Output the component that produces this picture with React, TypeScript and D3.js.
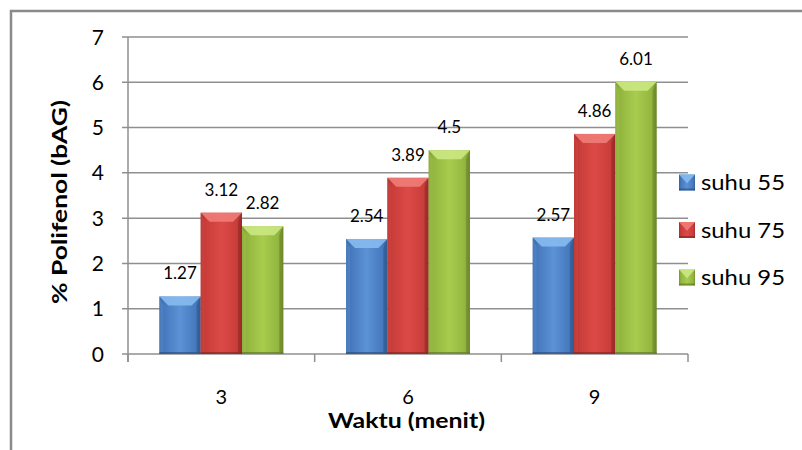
import React from "react";
import * as d3 from "d3";

const categories = ["3", "6", "9"];
const seriesNames = ["suhu 55", "suhu 75", "suhu 95"];
const suhu55 = [1.27, 2.54, 2.57];
const suhu75 = [3.12, 3.89, 4.86];
const suhu95 = [2.82, 4.5, 6.01];
const yTicks = [0, 1, 2, 3, 4, 5, 6, 7];
const seriesValues = [suhu55, suhu75, suhu95];

const palettes = [
  { dark: "#36629c", main: "#4679bd", light: "#5c92d6", top: "#86bbf0", bottom: "#2c5186" },
  { dark: "#a22f2c", main: "#c93d3a", light: "#dc4a46", top: "#f07c78", bottom: "#8c2624" },
  { dark: "#76932f", main: "#93b640", light: "#a8cc4d", top: "#cbe882", bottom: "#627c27" },
];

const FONT = "Lato, 'Open Sans', sans-serif";

function Bar({ x, y, w, h, p, id }: any) {
  const b = Math.min(9, h / 2);
  const s = Math.min(4, w / 4);
  return (
    <g>
      <rect x={x} y={y} width={w} height={h} fill={`url(#grad${id})`} />
      <polygon
        points={`${x},${y} ${x + w},${y} ${x + w - b},${y + b} ${x + b},${y + b}`}
        fill={p.top}
        opacity={0.9}
      />
      <polygon
        points={`${x},${y} ${x + s},${y + b} ${x + s},${y + h - 2} ${x},${y + h}`}
        fill={p.light}
        opacity={0.5}
      />
      <polygon
        points={`${x + w},${y} ${x + w - s},${y + b} ${x + w - s},${y + h - 2} ${x + w},${y + h}`}
        fill={p.bottom}
        opacity={0.45}
      />
      <rect x={x} y={y + h - 2} width={w} height={2} fill={p.bottom} opacity={0.7} />
    </g>
  );
}

export default function App() {
  const W = 802;
  const H = 450;
  const left = 128;
  const right = 688;
  const top = 37;
  const bottom = 354;

  const y = d3.scaleLinear().domain([0, 7]).range([bottom, top]);
  const x0 = d3.scaleBand<string>().domain(categories).range([left, right]).padding(0);
  const bw = x0.bandwidth();
  const x1 = d3
    .scaleBand<string>()
    .domain(seriesNames)
    .range([bw * 0.168, bw * 0.832])
    .padding(0);
  const barW = x1.bandwidth();
  const gridColor = "#8f8f8f";

  const legendY = [182.5, 230, 277.5];

  return (
    <svg
      width={W}
      height={H}
      style={{ position: "absolute", left: 0, top: 0, background: "#fff" }}
      fontFamily={FONT}
    >
      <defs>
        {palettes.map((p, i) => (
          <linearGradient key={i} id={`grad${i}`} x1="0" x2="1" y1="0" y2="0">
            <stop offset="0" stopColor={p.dark} />
            <stop offset="0.12" stopColor={p.main} />
            <stop offset="0.5" stopColor={p.light} />
            <stop offset="0.88" stopColor={p.main} />
            <stop offset="1" stopColor={p.dark} />
          </linearGradient>
        ))}
      </defs>
      <rect x={0} y={0} width={W} height={H} fill="#fff" />
      <rect x={11} y={11} width={900} height={700} fill="none" stroke="#8a8a8a" strokeWidth={2.5} />

      {/* gridlines */}
      {yTicks.map((t) => (
        <line
          key={t}
          x1={left - 6}
          x2={right}
          y1={y(t)}
          y2={y(t)}
          stroke={gridColor}
          strokeWidth={1.5}
        />
      ))}
      {/* y axis */}
      <line x1={left} x2={left} y1={top} y2={bottom + 8} stroke={gridColor} strokeWidth={1.5} />
      {/* x ticks */}
      {[...categories.map((c) => x0(c) as number), right].map((v, i) => (
        <line key={i} x1={v} x2={v} y1={bottom} y2={bottom + 8} stroke={gridColor} strokeWidth={1.5} />
      ))}

      {/* y tick labels */}
      {yTicks.map((t) => (
        <text key={t} x={104} y={y(t) + 7.5} textAnchor="end" fontSize={21} fill="#000">
          {t}
        </text>
      ))}

      {/* bars */}
      {categories.map((c, ci) =>
        seriesNames.map((s, si) => {
          const v = seriesValues[si][ci];
          const bx = (x0(c) as number) + (x1(s) as number);
          const by = y(v);
          return (
            <Bar key={`${ci}-${si}`} x={bx} y={by} w={barW} h={bottom - by} p={palettes[si]} id={si} />
          );
        })
      )}

      {/* data labels */}
      {categories.map((c, ci) =>
        seriesNames.map((s, si) => {
          const v = seriesValues[si][ci];
          const bx = (x0(c) as number) + (x1(s) as number) + barW / 2;
          return (
            <text key={`l${ci}-${si}`} x={bx} y={y(v) - 17} textAnchor="middle" fontSize={17} fill="#000">
              {String(v)}
            </text>
          );
        })
      )}

      {/* x labels */}
      {categories.map((c) => (
        <text
          key={c}
          x={(x0(c) as number) + bw / 2}
          y={404}
          textAnchor="middle"
          fontSize={20}
          fill="#000"
        >
          {c}
        </text>
      ))}

      {/* axis titles */}
      <text
        x={406.5}
        y={428}
        textAnchor="middle"
        fontSize={20}
        fontWeight="bold"
        fill="#000"
        textLength={157}
        lengthAdjust="spacingAndGlyphs"
      >
        Waktu (menit)
      </text>
      <text
        transform={`translate(67,202) rotate(-90)`}
        textAnchor="middle"
        fontSize={21}
        fontWeight="bold"
        fill="#000"
        textLength={204}
        lengthAdjust="spacingAndGlyphs"
      >
        % Polifenol (bAG)
      </text>

      {/* legend */}
      {seriesNames.map((s, i) => {
        const cy = legendY[i];
        const p = palettes[i];
        const lx = 679;
        const sz = 16;
        const ty = cy - sz / 2;
        return (
          <g key={s}>
            <rect x={lx} y={ty} width={sz} height={sz} fill={`url(#grad${i})`} />
            <polygon
              points={`${lx},${ty} ${lx + sz},${ty} ${lx + sz / 2},${ty + sz * 0.55}`}
              fill={p.top}
              opacity={0.9}
            />
            <rect x={lx} y={ty + sz - 2} width={sz} height={2} fill={p.bottom} opacity={0.7} />
            <text
              x={701}
              y={cy + 7.5}
              fontSize={22}
              fill="#000"
              textLength={84}
              lengthAdjust="spacingAndGlyphs"
            >
              {s}
            </text>
          </g>
        );
      })}
    </svg>
  );
}
